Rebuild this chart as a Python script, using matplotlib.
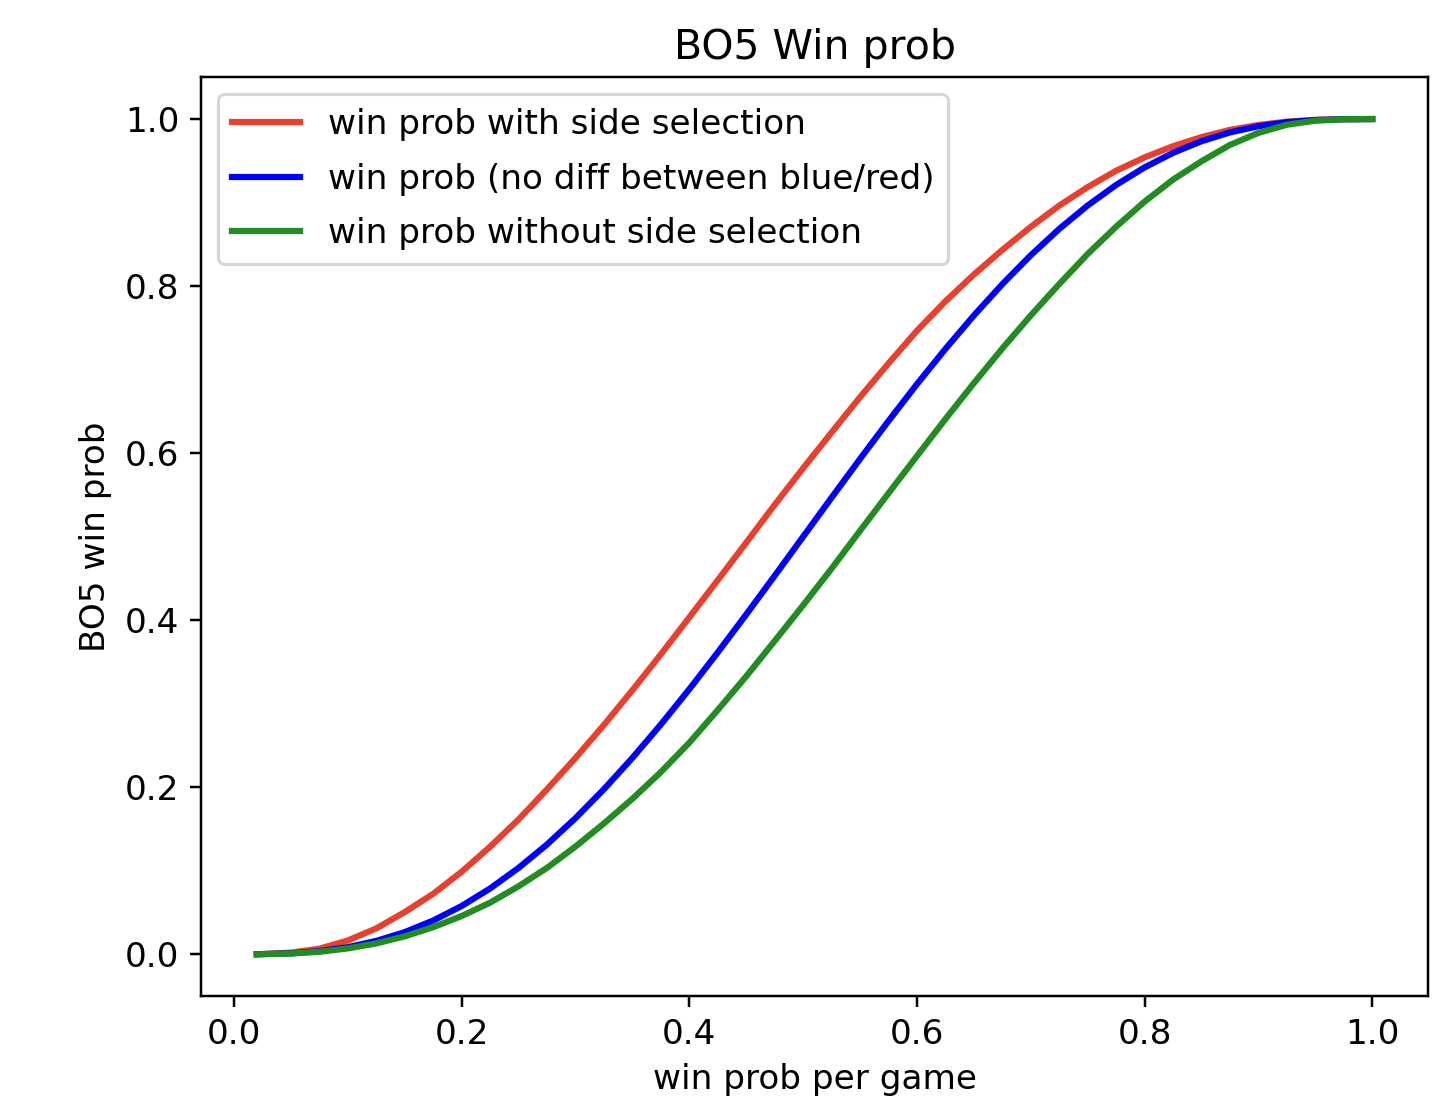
import numpy as np
import matplotlib
matplotlib.use("Agg")
import matplotlib.pyplot as plt

# win prob per single game
p_game = [0.02, 0.05, 0.075, 0.10, 0.125, 0.15, 0.175, 0.20, 0.225, 0.25, 0.275,
          0.30, 0.325, 0.35, 0.375, 0.40, 0.425, 0.45, 0.475, 0.50, 0.525,
          0.55, 0.575, 0.60, 0.625, 0.65, 0.675, 0.70, 0.725, 0.75, 0.775,
          0.80, 0.825, 0.85, 0.875, 0.90, 0.925, 0.95, 0.975, 1.00]

# BO5 win prob
with_side = [0.0001, 0.0020, 0.0068, 0.0166, 0.0311, 0.0506, 0.0725, 0.0989, 0.1289, 0.1615, 0.1976,
             0.2351, 0.2747, 0.3162, 0.3592, 0.4034, 0.4480, 0.4929, 0.5382, 0.5820, 0.6248,
             0.6671, 0.7075, 0.7466, 0.7818, 0.8138, 0.8433, 0.8709, 0.8964, 0.9185, 0.9381,
             0.9541, 0.9675, 0.9784, 0.9870, 0.9929, 0.9969, 0.9990, 0.9998, 1.0000]
no_diff = [0.0001, 0.0012, 0.0038, 0.0086, 0.0161, 0.0266, 0.0405, 0.0579, 0.0789, 0.1035, 0.1316,
           0.1631, 0.1977, 0.2352, 0.2752, 0.3174, 0.3615, 0.4069, 0.4532, 0.5000, 0.5468,
           0.5931, 0.6385, 0.6826, 0.7248, 0.7648, 0.8023, 0.8369, 0.8684, 0.8965, 0.9211,
           0.9421, 0.9595, 0.9734, 0.9840, 0.9914, 0.9962, 0.9988, 0.9998, 1.0000]
without_side = [0.0001, 0.0010, 0.0031, 0.0071, 0.0131, 0.0216, 0.0325, 0.0459, 0.0619, 0.0815, 0.1036,
                0.1291, 0.1567, 0.1862, 0.2182, 0.2534, 0.2925, 0.3329, 0.3752, 0.4180, 0.4618,
                0.5071, 0.5520, 0.5966, 0.6408, 0.6838, 0.7253, 0.7649, 0.8024, 0.8385, 0.8711,
                0.9011, 0.9275, 0.9494, 0.9690, 0.9834, 0.9932, 0.9980, 0.9998, 1.0000]

plt.rcParams["font.size"] = 11

fig = plt.figure(figsize=(1433 / 224, 1104 / 224), dpi=224)
ax = fig.add_axes([0.1403, 0.0978, 0.8562, 0.8322])

ax.plot(p_game, with_side, color="#e8402e", lw=2, label="win prob with side selection")
ax.plot(p_game, no_diff, color="blue", lw=2, label="win prob (no diff between blue/red)")
ax.plot(p_game, without_side, color="forestgreen", lw=2, label="win prob without side selection")

ax.set_title("BO5 Win prob", fontsize=13.2)
ax.set_xlabel("win prob per game")
ax.set_ylabel("BO5 win prob")
ax.legend(loc="upper left", labelspacing=0.63)

fig.savefig("out.png", dpi=224)
